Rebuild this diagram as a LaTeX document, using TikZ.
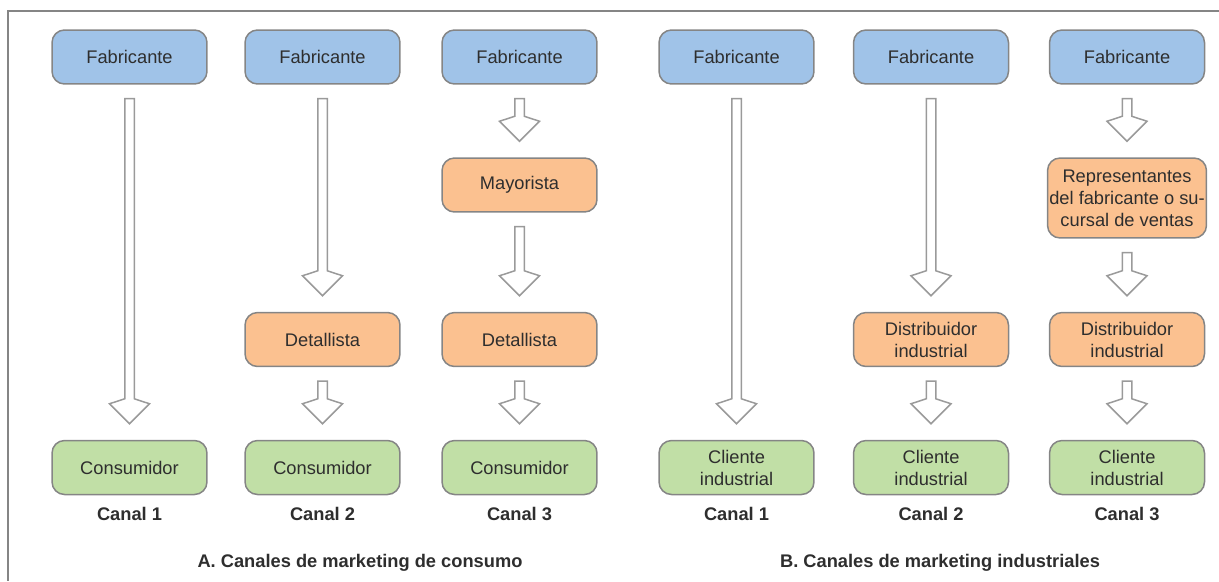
\documentclass[tikz,border=0pt]{standalone}
\usepackage{fontspec}
\setmainfont{Liberation Sans}
\usetikzlibrary{calc}
\definecolor{bluefill}{HTML}{A0C3E8}
\definecolor{orangefill}{HTML}{FBC190}
\definecolor{greenfill}{HTML}{C1DFA6}
\definecolor{boxline}{HTML}{858585}
\definecolor{arrline}{HTML}{9A9A9A}
\definecolor{txt}{HTML}{2E2E2E}
\tikzset{
  box/.style={draw=boxline, line width=0.03cm, rounded corners=0.25cm,
    minimum width=3.1cm, minimum height=1.08cm, align=center, text=txt,
    font=\fontsize{10.4}{12.5}\selectfont, inner sep=1pt},
  fab/.style={box, fill=bluefill},
  mid/.style={box, fill=orangefill},
  fin/.style={box, fill=greenfill},
  canal/.style={text=txt, font=\fontsize{10.4}{12.5}\selectfont\bfseries},
  hollow/.style={draw=arrline, fill=white, line width=0.03cm, line join=miter},
  frame/.style={draw=boxline, line width=0.03cm}
}
\newcommand\harrow[2]{%
  \draw[hollow] let \p1=($(#1.south)+(0,-0.28cm)$), \p2=($(#2.north)+(0,0.32cm)$) in
    (\x1-0.095cm,\y1) -- (\x1+0.095cm,\y1) -- (\x1+0.095cm,\y2+0.5cm)
    -- (\x1+0.4cm,\y2+0.4cm) -- (\x1,\y2) -- (\x1-0.4cm,\y2+0.4cm)
    -- (\x1-0.095cm,\y2+0.5cm) -- cycle;}
\begin{document}
\begin{tikzpicture}[x=0.02cm,y=-0.02cm]
\useasboundingbox (0,0) rectangle (1219,581);
\coordinate (fr1) at (1219,11);
\coordinate (fr2) at (8,11);
\coordinate (fr3) at (8,581);
\draw[frame] (fr1) -- (fr2) -- (fr3);
% A
\node[fab] (a1f) at (129.5,57) {Fabricante};
\node[fin] (a1c) at (129.5,467.5) {Consumidor};
\node[canal] (a1l) at (129.5,514) {Canal 1};
\node[fab] (a2f) at (322.5,57) {Fabricante};
\node[mid] (a2d) at (322.5,339.5) {Detallista};
\node[fin] (a2c) at (322.5,467.5) {Consumidor};
\node[canal] (a2l) at (322.5,514) {Canal 2};
\node[fab] (a3f) at (519.5,57) {Fabricante};
\node[mid] (a3m) at (519.5,185) {Mayorista};
\node[mid] (a3d) at (519.5,339.5) {Detallista};
\node[fin] (a3c) at (519.5,467.5) {Consumidor};
\node[canal] (a3l) at (519.5,514) {Canal 3};
% B
\node[fab] (b1f) at (736.5,57) {Fabricante};
\node[fin] (b1c) at (736.5,467.5) {Cliente\\industrial};
\node[canal] (b1l) at (736.5,514) {Canal 1};
\node[fab] (b2f) at (931,57) {Fabricante};
\node[mid] (b2d) at (931,339.5) {Distribuidor\\industrial};
\node[fin] (b2c) at (931,467.5) {Cliente\\industrial};
\node[canal] (b2l) at (931,514) {Canal 2};
\node[fab] (b3f) at (1127,57) {Fabricante};
\node[mid, minimum width=3.16cm, minimum height=1.6cm] (b3r) at (1127,198) {Representantes\\del fabricante o su-\\cursal de ventas};
\node[mid] (b3d) at (1127,339.5) {Distribuidor\\industrial};
\node[fin] (b3c) at (1127,467.5) {Cliente\\industrial};
\node[canal] (b3l) at (1127,514) {Canal 3};
% titles
\node[canal] (ta) at (360,563) {A. Canales de marketing de consumo};
\node[canal] (tb) at (940,563) {B. Canales de marketing industriales};
% arrows
\harrow{a1f}{a1c}
\harrow{a2f}{a2d}
\harrow{a2d}{a2c}
\harrow{a3f}{a3m}
\harrow{a3m}{a3d}
\harrow{a3d}{a3c}
\harrow{b1f}{b1c}
\harrow{b2f}{b2d}
\harrow{b2d}{b2c}
\harrow{b3f}{b3r}
\harrow{b3r}{b3d}
\harrow{b3d}{b3c}
\end{tikzpicture}
\end{document}
